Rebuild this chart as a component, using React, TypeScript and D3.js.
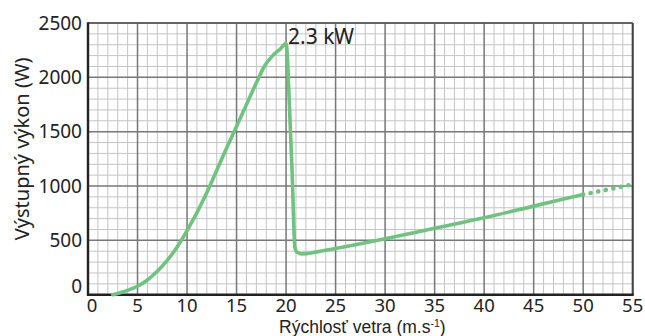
import * as d3 from 'd3'

// wind turbine power curve
const speed = [2.5, 3, 4, 5, 6, 7, 8, 9, 10, 11, 12, 13, 14, 15, 16, 17, 17.8, 18.6, 19.4, 20, 20.4, 20.6, 20.9, 21.1, 21.6, 23, 25, 30, 35, 40, 45, 50]
const power = [0, 12, 40, 78, 135, 215, 315, 440, 590, 755, 940, 1145, 1350, 1550, 1750, 1950, 2100, 2195, 2260, 2310, 1600, 1150, 430, 390, 376, 392, 425, 515, 612, 708, 815, 922]

// extrapolated (dotted) part
const extSpeed = [50, 52.5, 55]
const extPower = [922, 968, 1015]

const xTicks = [0, 5, 10, 15, 20, 25, 30, 35, 40, 45, 50, 55]
const yTicks = [0, 500, 1000, 1500, 2000, 2500]

const peakLabel = '2.3 kW'
const yTitle = 'Výstupný výkon (W)'
const xTitle = 'Rýchlosť vetra (m.s'

const W = 645
const H = 336
const margin = { top: 23, right: 12.3, bottom: 41.3, left: 88 }

const tickFont = "'Noto Sans', 'Open Sans', sans-serif"
const green = '#6ec47e'

export default function App() {
  const x = d3.scaleLinear().domain([0, 55]).range([margin.left, W - margin.right])
  const y = d3.scaleLinear().domain([0, 2500]).range([H - margin.bottom, margin.top])

  const minorX = d3.range(1, 55, 1).filter((v) => v % 5 !== 0)
  const minorY = d3.range(100, 2500, 100).filter((v) => v % 500 !== 0)

  const line = d3
    .line<number>()
    .x((_, i) => x(speed[i]))
    .y((d) => y(d))
    .curve(d3.curveMonotoneX)

  const extLine = d3
    .line<number>()
    .x((_, i) => x(extSpeed[i]))
    .y((d) => y(d))

  const x0 = x(0)
  const x1 = x(55)
  const y0 = y(0)
  const y1 = y(2500)

  return (
    <svg width={W} height={H} style={{ position: 'absolute', left: 0, top: 0, background: '#fff' }}>
      {/* minor grid */}
      <g stroke="#c4c4c4" strokeWidth={1}>
        {minorX.map((v) => (
          <line key={'mx' + v} x1={x(v)} x2={x(v)} y1={y1} y2={y0} />
        ))}
        {minorY.map((v) => (
          <line key={'my' + v} x1={x0} x2={x1} y1={y(v)} y2={y(v)} />
        ))}
      </g>
      {/* major grid */}
      <g stroke="#777" strokeWidth={1.5}>
        {xTicks.map((v) => (
          <line key={'Mx' + v} x1={x(v)} x2={x(v)} y1={y1} y2={y0} />
        ))}
        {yTicks.map((v) => (
          <line key={'My' + v} x1={x0} x2={x1} y1={y(v)} y2={y(v)} />
        ))}
      </g>
      {/* frame */}
      <line x1={x0} x2={x1} y1={y1} y2={y1} stroke="#555" strokeWidth={1.6} />
      <line x1={x1} x2={x1} y1={y1} y2={y0} stroke="#444" strokeWidth={2} />
      <line x1={x0} x2={x0} y1={y1 - 0.8} y2={y0 + 1} stroke="#222" strokeWidth={2.4} />
      <line x1={x0 - 1} x2={x1 + 1} y1={y0} y2={y0} stroke="#222" strokeWidth={2.4} />

      {/* power curve */}
      <path d={line(power) ?? ''} fill="none" stroke={green} strokeWidth={3.6} strokeLinejoin="round" strokeLinecap="round" />
      <path
        d={extLine(extPower) ?? ''}
        fill="none"
        stroke={green}
        strokeWidth={4.6}
        strokeLinecap="round"
        strokeDasharray="0.1 7.6"
        strokeDashoffset={-7.6}
      />

      <text x={x(20) + 2} y={y(2500) + 21} fontFamily={tickFont} fontSize={21} fill="#222">
        {peakLabel}
      </text>

      {/* y tick labels */}
      {yTicks.map((v) => (
        <text
          key={'yt' + v}
          x={x0 - 6}
          y={Math.min(y(v) + 6.5, y0 - 1.5)}
          textAnchor="end"
          fontFamily={tickFont}
          fontSize={19}
          fill="#222"
        >
          {v}
        </text>
      ))}
      {/* x tick labels */}
      {xTicks.map((v) => (
        <text
          key={'xt' + v}
          x={v === 0 ? x(v) + 4 : x(v)}
          y={y0 + 17}
          textAnchor="middle"
          fontFamily={tickFont}
          fontSize={18.5}
          fill="#222"
        >
          {v}
        </text>
      ))}

      <text
        transform={`translate(29,${(y0 + y1) / 2 - 10}) rotate(-90)`}
        textAnchor="middle"
        fontFamily={tickFont}
        fontSize={20}
        fill="#222"
      >
        {yTitle}
      </text>

      <text x={(x0 + x1) / 2 + 2} y={332.5} textAnchor="middle" fontFamily="'Liberation Sans', Arial, sans-serif" fontSize={17.5} fill="#222">
        {xTitle}
        <tspan fontSize={10.5} dy={-5.5}>-1</tspan>
        <tspan dy={5.5}>)</tspan>
      </text>
    </svg>
  )
}
